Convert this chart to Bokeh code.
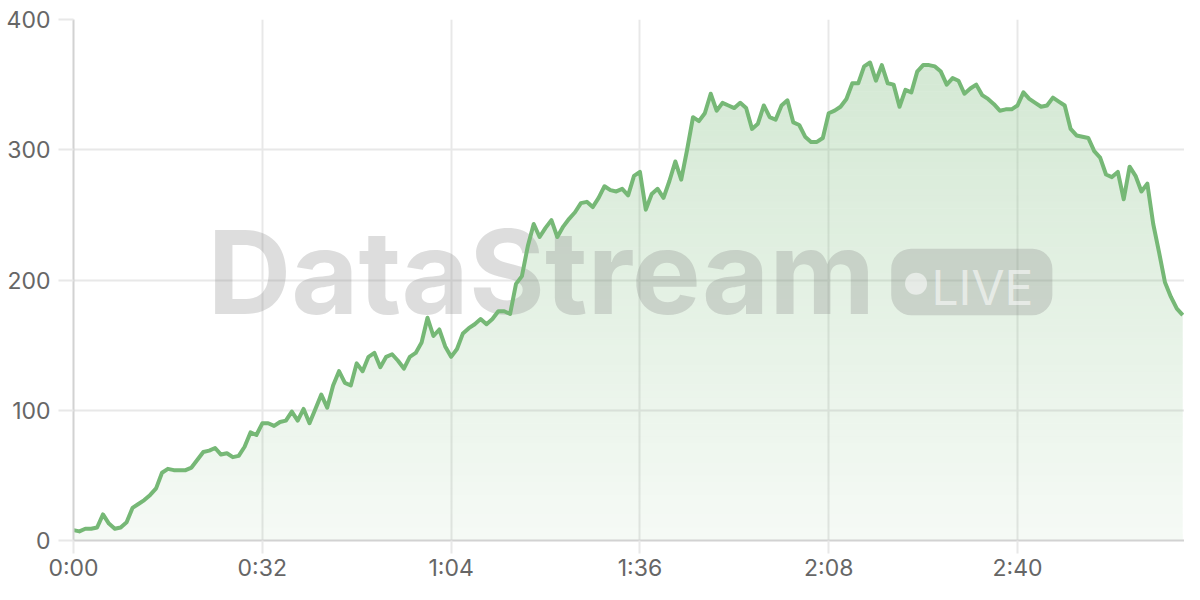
import numpy as np
from bokeh.plotting import figure
from bokeh.models import FixedTicker, Range1d
from bokeh.embed import file_html
from bokeh.resources import INLINE
from bokeh.core.properties import value

# ---------------- data ----------------
seconds = list(range(189))
viewers = [
    8, 7, 9, 9, 10, 20, 13, 9, 10, 14,
    25, 28, 31, 35, 40, 52, 55, 54, 54, 54,
    56, 62, 68, 69, 71, 66, 67, 64, 65, 72,
    83, 81, 90, 90, 88, 91, 92, 99, 92, 101,
    90, 101, 112, 102, 119, 130, 121, 119, 136, 130,
    141, 144, 133, 141, 143, 138, 132, 141, 144, 152,
    171, 157, 162, 149, 141, 147, 159, 163, 166, 170,
    166, 170, 176, 176, 174, 197, 203, 226, 243, 233,
    240, 246, 233, 241, 247, 252, 259, 260, 256, 263,
    272, 269, 268, 270, 265, 280, 283, 254, 266, 270,
    263, 276, 291, 277, 300, 325, 322, 328, 343, 330,
    336, 334, 332, 336, 332, 316, 320, 334, 325, 323,
    334, 338, 321, 319, 310, 306, 306, 309, 328, 330,
    333, 339, 351, 351, 364, 367, 353, 365, 351, 350,
    333, 346, 344, 360, 365, 365, 364, 360, 350, 355,
    353, 343, 347, 350, 342, 339, 335, 330, 331, 331,
    334, 344, 339, 336, 333, 334, 340, 337, 334, 316,
    311, 310, 309, 299, 294, 281, 279, 283, 262, 287,
    280, 268, 274, 243, 221, 198, 187, 178, 173,
]
x_ticks = [0, 32, 64, 96, 128, 160]
x_tick_labels = ["0:00", "0:32", "1:04", "1:36", "2:08", "2:40"]
y_ticks = [0, 100, 200, 300, 400]

# ---------------- style ----------------
GREEN = "#76b876"
GRID = "#e8e8e8"
AXIS = "#d2d2d2"
TEXT = "#666666"
FONT = "Inter"

p = figure(width=1184, height=584, output_backend="svg", toolbar_location=None,
           x_range=Range1d(0, 188.3), y_range=Range1d(0, 400),
           min_border_left=73, min_border_right=0, min_border_top=19,
           min_border_bottom=43)
p.outline_line_color = None
p.background_fill_color = "white"
p.border_fill_color = "white"

for ax in (p.xaxis[0], p.yaxis[0]):
    ax.axis_line_color = AXIS
    ax.axis_line_width = 2
    ax.major_tick_line_color = GRID
    ax.major_tick_line_width = 2
    ax.major_tick_out = 15
    ax.major_tick_in = 0
    ax.minor_tick_line_color = None
    ax.major_label_text_font = FONT
    ax.major_label_text_font_size = "23px"
    ax.major_label_text_color = TEXT
    ax.major_label_standoff = 8

p.xaxis.ticker = FixedTicker(ticks=x_ticks)
p.xaxis.major_label_overrides = dict(zip(x_ticks, x_tick_labels))
p.yaxis.ticker = FixedTicker(ticks=y_ticks)
p.xaxis.major_label_standoff = 0
p.xaxis.major_tick_out = 13

p.xgrid.ticker = FixedTicker(ticks=x_ticks)
p.ygrid.ticker = FixedTicker(ticks=y_ticks)
for g in (p.xgrid[0], p.ygrid[0]):
    g.grid_line_color = GRID
    g.grid_line_width = 2

# ---------------- gradient area fill (non-overlapping translucent bands) ----------------
t = np.array(seconds, dtype=float)
v = np.array(viewers, dtype=float)


def band_alpha(level):
    return 0.07 + 0.27 * level / 400.0


def crossings(level):
    out = []
    for i in range(1, len(t)):
        if (v[i - 1] - level) * (v[i] - level) < 0:
            out.append(t[i - 1] + (level - v[i - 1]) * (t[i] - t[i - 1]) / (v[i] - v[i - 1]))
    return out


STEP = 5
for lo in range(0, 400, STEP):
    hi = lo + STEP
    if v.max() <= lo:
        continue
    xs = np.unique(np.concatenate([t, crossings(lo), crossings(hi)]))
    ys = np.clip(np.interp(xs, t, v), lo, hi)
    p.varea(x=xs, y1=np.full(len(xs), float(lo)), y2=ys, fill_color=GREEN,
            fill_alpha=band_alpha(lo + STEP / 2))

# ---------------- watermark ----------------
WM = "#808080"
WM_A = 0.27
p.text(x=[22.7], y=[206], text=["DataStream"], text_font=value(FONT),
       text_font_style="bold", text_font_size="116px", text_color=WM,
       text_alpha=WM_A, text_baseline="alphabetic", text_align="left")
p.quad(left=[138.6], right=[165.9], bottom=[173], top=[224],
       fill_color=WM, fill_alpha=WM_A, line_color=None, border_radius=20)
p.scatter(x=[142.8], y=[197.2], marker="circle", size=22, fill_color="white",
          fill_alpha=0.55, line_color=None)
p.text(x=[145.4], y=[194.6], text=["LIVE"], text_font=value(FONT),
       text_font_size="48px", text_color="white", text_alpha=0.55,
       text_baseline="alphabetic", text_align="left")

# ---------------- line ----------------
p.line(t, v, line_color=GREEN, line_width=4, line_join="round")

open("out.html", "w").write(file_html(p, INLINE))
